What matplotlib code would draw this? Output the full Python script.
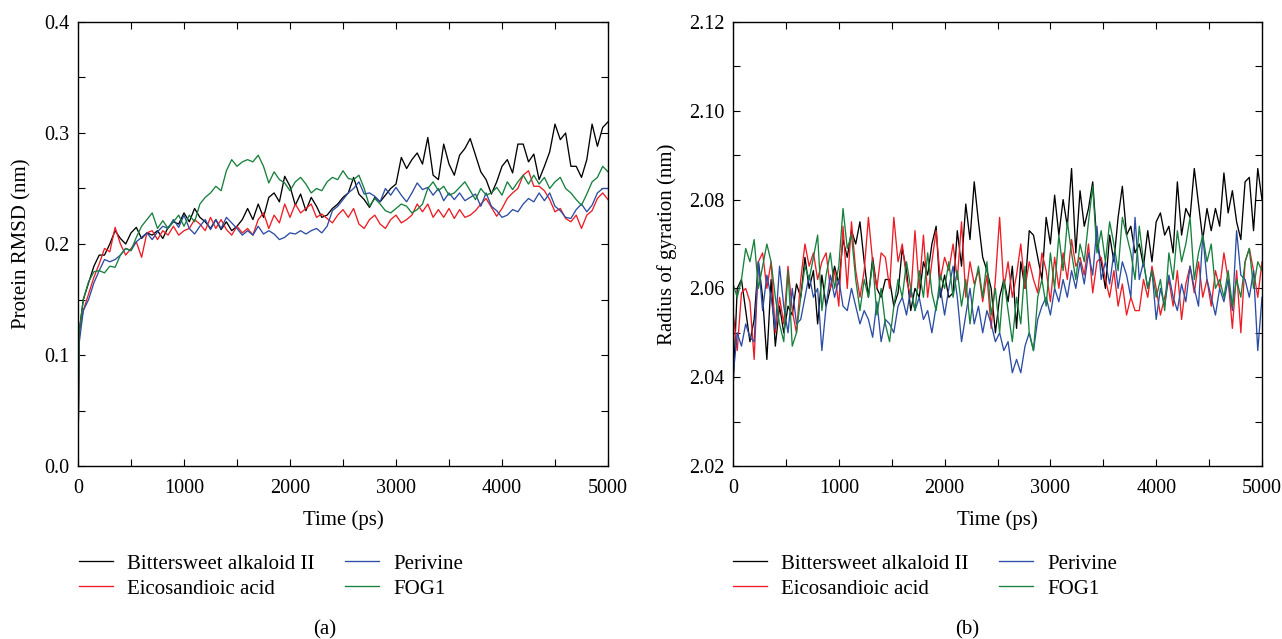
import numpy as np
import matplotlib
matplotlib.use("Agg")
import matplotlib.pyplot as plt
from matplotlib.ticker import MultipleLocator

plt.rcParams['font.family'] = ['Liberation Serif', 'DejaVu Serif']
plt.rcParams['font.size'] = 15

labels = ["Bittersweet alkaloid II", "Eicosandioic acid", "Perivine", "FOG1"]
colors = ["#000000", "#ee1c25", "#2c4da3", "#17803d"]

# ---------------- Panel (a): Protein RMSD ----------------
t_rmsd = [0, 10] + list(range(50, 5001, 50))

rmsd_black = [0.0, 0.12, 0.15, 0.165, 0.18, 0.19, 0.19, 0.20, 0.212, 0.205, 0.20, 0.21,
              0.215, 0.205, 0.21, 0.208, 0.212, 0.205, 0.215, 0.22, 0.218, 0.228, 0.22, 0.232,
              0.224, 0.22, 0.214, 0.222, 0.213, 0.22, 0.212, 0.216, 0.222, 0.232, 0.222, 0.236,
              0.224, 0.242, 0.246, 0.238, 0.261, 0.252, 0.235, 0.245, 0.23, 0.242, 0.234, 0.224,
              0.226, 0.232, 0.236, 0.242, 0.246, 0.26, 0.245, 0.24, 0.233, 0.242, 0.238, 0.244,
              0.25, 0.254, 0.278, 0.268, 0.276, 0.282, 0.272, 0.296, 0.262, 0.258, 0.29, 0.272,
              0.262, 0.28, 0.286, 0.295, 0.28, 0.265, 0.258, 0.245, 0.256, 0.27, 0.276, 0.264,
              0.29, 0.29, 0.274, 0.281, 0.258, 0.27, 0.283, 0.308, 0.294, 0.30, 0.27, 0.27,
              0.26, 0.276, 0.308, 0.288, 0.305, 0.31]

rmsd_red = [0.0, 0.12, 0.14, 0.155, 0.17, 0.182, 0.196, 0.193, 0.215, 0.20, 0.19, 0.196,
            0.202, 0.188, 0.21, 0.212, 0.204, 0.212, 0.208, 0.216, 0.208, 0.212, 0.214, 0.222,
            0.218, 0.212, 0.224, 0.214, 0.222, 0.213, 0.208, 0.216, 0.21, 0.214, 0.208, 0.222,
            0.228, 0.214, 0.226, 0.219, 0.236, 0.224, 0.236, 0.228, 0.232, 0.236, 0.224, 0.227,
            0.223, 0.219, 0.226, 0.231, 0.224, 0.232, 0.218, 0.214, 0.222, 0.226, 0.218, 0.214,
            0.222, 0.226, 0.219, 0.222, 0.226, 0.236, 0.229, 0.236, 0.224, 0.231, 0.224, 0.232,
            0.223, 0.231, 0.224, 0.226, 0.23, 0.236, 0.241, 0.233, 0.225, 0.232, 0.241, 0.246,
            0.25, 0.262, 0.266, 0.252, 0.252, 0.248, 0.24, 0.229, 0.232, 0.223, 0.22, 0.226,
            0.214, 0.226, 0.23, 0.241, 0.246, 0.24]

rmsd_blue = [0.0, 0.11, 0.14, 0.15, 0.165, 0.176, 0.186, 0.184, 0.186, 0.19, 0.196, 0.194,
             0.202, 0.206, 0.21, 0.204, 0.211, 0.216, 0.214, 0.222, 0.215, 0.226, 0.214, 0.209,
             0.216, 0.222, 0.213, 0.222, 0.214, 0.224, 0.219, 0.214, 0.208, 0.212, 0.208, 0.216,
             0.209, 0.212, 0.209, 0.204, 0.206, 0.21, 0.209, 0.212, 0.209, 0.212, 0.214, 0.21,
             0.216, 0.23, 0.234, 0.24, 0.246, 0.25, 0.256, 0.245, 0.246, 0.243, 0.238, 0.25,
             0.244, 0.251, 0.244, 0.238, 0.246, 0.255, 0.249, 0.251, 0.244, 0.25, 0.239, 0.246,
             0.24, 0.246, 0.239, 0.242, 0.245, 0.234, 0.246, 0.234, 0.23, 0.224, 0.226, 0.231,
             0.229, 0.236, 0.241, 0.238, 0.246, 0.239, 0.246, 0.234, 0.23, 0.224, 0.223, 0.231,
             0.236, 0.229, 0.235, 0.246, 0.25, 0.25]

rmsd_green = [0.0, 0.12, 0.15, 0.166, 0.175, 0.176, 0.174, 0.18, 0.179, 0.19, 0.196, 0.194,
              0.206, 0.216, 0.222, 0.228, 0.214, 0.221, 0.214, 0.22, 0.226, 0.216, 0.226, 0.22,
              0.236, 0.242, 0.246, 0.252, 0.248, 0.266, 0.276, 0.27, 0.274, 0.276, 0.274, 0.28,
              0.27, 0.255, 0.265, 0.258, 0.255, 0.248, 0.256, 0.26, 0.254, 0.246, 0.25, 0.248,
              0.256, 0.26, 0.258, 0.266, 0.259, 0.258, 0.262, 0.25, 0.234, 0.241, 0.236, 0.23,
              0.228, 0.232, 0.236, 0.234, 0.228, 0.231, 0.236, 0.25, 0.256, 0.248, 0.252, 0.244,
              0.246, 0.251, 0.256, 0.248, 0.24, 0.25, 0.244, 0.246, 0.251, 0.244, 0.256, 0.249,
              0.256, 0.262, 0.254, 0.262, 0.254, 0.26, 0.25, 0.256, 0.26, 0.25, 0.246, 0.24,
              0.235, 0.245, 0.256, 0.26, 0.27, 0.265]

# ---------------- Panel (b): Radius of gyration ----------------
t_rg = list(range(0, 5001, 40))

rg_black = [2.037, 2.060, 2.062, 2.055, 2.048, 2.053, 2.066, 2.058, 2.044, 2.062,
            2.047, 2.056, 2.050, 2.056, 2.054, 2.061, 2.058, 2.067, 2.060, 2.064,
            2.052, 2.063, 2.056, 2.060, 2.065, 2.061, 2.071, 2.067, 2.073, 2.070,
            2.075, 2.066, 2.058, 2.067, 2.060, 2.058, 2.062, 2.062, 2.056, 2.059,
            2.069, 2.064, 2.055, 2.060, 2.058, 2.066, 2.063, 2.070, 2.074, 2.058,
            2.063, 2.058, 2.059, 2.073, 2.065, 2.079, 2.071, 2.084, 2.075, 2.067,
            2.064, 2.060, 2.050, 2.058, 2.062, 2.057, 2.065, 2.051, 2.066, 2.060,
            2.073, 2.072, 2.067, 2.062, 2.076, 2.070, 2.081, 2.072, 2.080, 2.074,
            2.087, 2.068, 2.082, 2.074, 2.078, 2.084, 2.070, 2.066, 2.060, 2.072,
            2.066, 2.076, 2.083, 2.072, 2.074, 2.068, 2.070, 2.065, 2.073, 2.066,
            2.075, 2.077, 2.072, 2.074, 2.068, 2.084, 2.072, 2.078, 2.076, 2.087,
            2.079, 2.071, 2.078, 2.073, 2.078, 2.074, 2.086, 2.077, 2.082, 2.075,
            2.071, 2.084, 2.085, 2.073, 2.087, 2.080]

rg_red = [2.055, 2.046, 2.059, 2.060, 2.057, 2.044, 2.066, 2.068, 2.060, 2.066,
          2.050, 2.058, 2.052, 2.065, 2.055, 2.050, 2.062, 2.070, 2.065, 2.068,
          2.062, 2.066, 2.068, 2.060, 2.064, 2.056, 2.074, 2.060, 2.075, 2.064,
          2.058, 2.064, 2.076, 2.066, 2.060, 2.068, 2.067, 2.060, 2.076, 2.066,
          2.070, 2.062, 2.058, 2.073, 2.060, 2.072, 2.058, 2.066, 2.073, 2.062,
          2.067, 2.064, 2.070, 2.062, 2.075, 2.058, 2.066, 2.061, 2.064, 2.057,
          2.063, 2.051, 2.062, 2.076, 2.060, 2.066, 2.058, 2.063, 2.070, 2.060,
          2.066, 2.062, 2.059, 2.068, 2.064, 2.057, 2.067, 2.060, 2.068, 2.062,
          2.071, 2.065, 2.067, 2.063, 2.070, 2.059, 2.066, 2.067, 2.062, 2.058,
          2.064, 2.056, 2.061, 2.054, 2.058, 2.055, 2.055, 2.062, 2.058, 2.065,
          2.060, 2.054, 2.058, 2.062, 2.056, 2.064, 2.053, 2.061, 2.065, 2.059,
          2.066, 2.058, 2.062, 2.056, 2.064, 2.060, 2.068, 2.062, 2.051, 2.064,
          2.050, 2.066, 2.069, 2.064, 2.058, 2.066]

rg_blue = [2.040, 2.050, 2.047, 2.052, 2.049, 2.048, 2.066, 2.055, 2.063, 2.058,
           2.051, 2.065, 2.056, 2.050, 2.060, 2.052, 2.053, 2.058, 2.063, 2.058,
           2.060, 2.046, 2.056, 2.063, 2.058, 2.062, 2.056, 2.055, 2.060, 2.056,
           2.052, 2.055, 2.053, 2.049, 2.057, 2.048, 2.053, 2.052, 2.050, 2.056,
           2.058, 2.054, 2.060, 2.055, 2.058, 2.053, 2.055, 2.050, 2.056, 2.060,
           2.054, 2.060, 2.065, 2.058, 2.048, 2.054, 2.060, 2.052, 2.056, 2.050,
           2.055, 2.052, 2.048, 2.050, 2.046, 2.048, 2.041, 2.044, 2.041, 2.047,
           2.050, 2.046, 2.053, 2.056, 2.058, 2.054, 2.060, 2.057, 2.062, 2.058,
           2.064, 2.060, 2.066, 2.061, 2.068, 2.063, 2.074, 2.062, 2.066, 2.061,
           2.068, 2.060, 2.066, 2.063, 2.058, 2.076, 2.062, 2.066, 2.060, 2.064,
           2.053, 2.060, 2.056, 2.063, 2.058, 2.055, 2.061, 2.057, 2.065, 2.060,
           2.056, 2.072, 2.062, 2.058, 2.054, 2.060, 2.057, 2.062, 2.055, 2.073,
           2.063, 2.062, 2.058, 2.064, 2.046, 2.058]

rg_green = [2.061, 2.058, 2.062, 2.069, 2.066, 2.071, 2.060, 2.065, 2.070, 2.066,
            2.058, 2.052, 2.048, 2.064, 2.047, 2.050, 2.058, 2.065, 2.062, 2.067,
            2.072, 2.055, 2.063, 2.068, 2.060, 2.065, 2.078, 2.069, 2.072, 2.062,
            2.055, 2.062, 2.058, 2.066, 2.054, 2.060, 2.052, 2.048, 2.056, 2.062,
            2.058, 2.066, 2.060, 2.055, 2.064, 2.058, 2.068, 2.059, 2.055, 2.063,
            2.060, 2.066, 2.058, 2.064, 2.056, 2.062, 2.052, 2.060, 2.065, 2.058,
            2.066, 2.054, 2.060, 2.050, 2.062, 2.055, 2.048, 2.058, 2.052, 2.065,
            2.050, 2.046, 2.058, 2.062, 2.056, 2.068, 2.060, 2.072, 2.064, 2.075,
            2.068, 2.062, 2.070, 2.066, 2.075, 2.083, 2.068, 2.073, 2.066, 2.075,
            2.070, 2.064, 2.076, 2.072, 2.068, 2.062, 2.074, 2.066, 2.060, 2.064,
            2.058, 2.062, 2.055, 2.068, 2.062, 2.073, 2.066, 2.070, 2.076, 2.062,
            2.068, 2.072, 2.066, 2.070, 2.060, 2.062, 2.058, 2.064, 2.056, 2.062,
            2.058, 2.066, 2.069, 2.060, 2.066, 2.064]

W, H = 1282, 639
fig = plt.figure(figsize=(W / 100, H / 100), dpi=100)

def fx(px):
    return px / W

def fy(py):
    return 1 - py / H

ax1 = fig.add_axes([fx(78), fy(466), fx(608) - fx(78), fy(22) - fy(466)])
ax2 = fig.add_axes([fx(733), fy(466), fx(1262) - fx(733), fy(22) - fy(466)])

lw = 0.95
for ax, t, series in [(ax1, t_rmsd, [rmsd_black, rmsd_red, rmsd_blue, rmsd_green]),
                      (ax2, t_rg, [rg_black, rg_red, rg_blue, rg_green])]:
    for y, c, lab in zip(series, colors, labels):
        ax.plot(t, y, color=c, lw=lw, label=lab)
    ax.set_xlim(0, 5000)
    ax.xaxis.set_major_locator(MultipleLocator(1000))
    ax.xaxis.set_minor_locator(MultipleLocator(500))
    ax.tick_params(which='both', direction='in', top=True, right=True, length=5, width=0.8)
    ax.tick_params(axis='both', which='major', labelsize=14.5)
    ax.tick_params(axis='y', which='major', pad=6)
    ax.tick_params(axis='x', which='major', pad=9.5)
    for s in ax.spines.values():
        s.set_linewidth(1.0)
    ax.set_xlabel("Time (ps)", labelpad=9)

ax1.set_ylim(0, 0.4)
ax1.yaxis.set_major_locator(MultipleLocator(0.1))
ax1.yaxis.set_minor_locator(MultipleLocator(0.05))
ax1.yaxis.set_major_formatter(matplotlib.ticker.FormatStrFormatter('%.1f'))
ax1.set_ylabel("Protein RMSD (nm)", labelpad=9)

ax2.set_ylim(2.02, 2.12)
ax2.yaxis.set_major_locator(MultipleLocator(0.02))
ax2.yaxis.set_minor_locator(MultipleLocator(0.01))
ax2.yaxis.set_major_formatter(matplotlib.ticker.FormatStrFormatter('%.2f'))
ax2.set_ylabel("Radius of gyration (nm)", labelpad=9)

for ax, x0 in [(ax1, 79), (ax2, 733)]:
    ax.legend(loc='upper left', bbox_to_anchor=(fx(x0), fy(554)),
              bbox_transform=fig.transFigure, ncol=2, frameon=False,
              borderpad=0, borderaxespad=0, handlelength=1.65, handletextpad=0.67,
              columnspacing=1.45, labelspacing=0.26)

fig.text(fx(325), fy(630), "(a)", ha='center', va='center')
fig.text(fx(967), fy(630), "(b)", ha='center', va='center')

fig.savefig("out.png", dpi=100)
